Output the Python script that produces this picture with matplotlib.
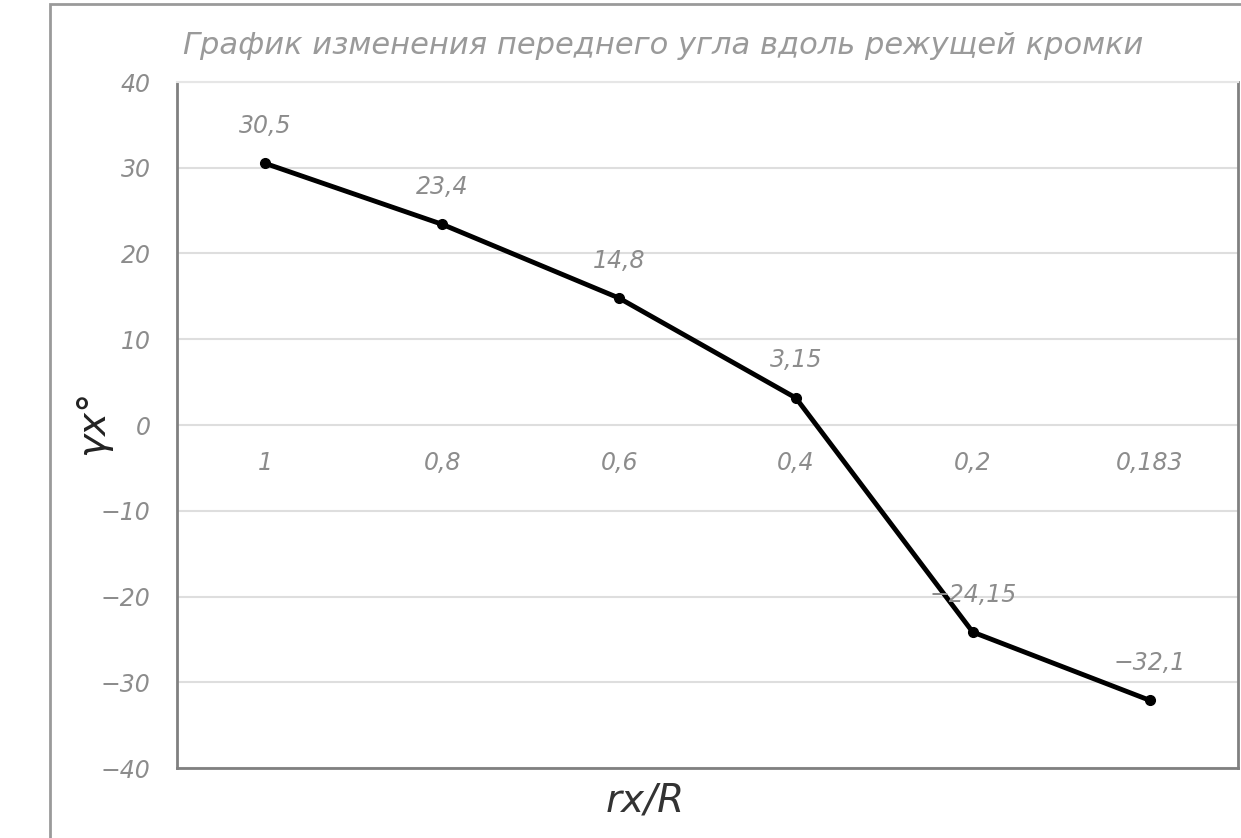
import matplotlib.pyplot as plt
from matplotlib.patches import Rectangle

# data
categories = ["1", "0,8", "0,6", "0,4", "0,2", "0,183"]
gamma = [30.5, 23.4, 14.8, 3.15, -24.15, -32.1]
point_labels = ["30,5", "23,4", "14,8", "3,15", "\u221224,15", "\u221232,1"]
yticks = [-40, -30, -20, -10, 0, 10, 20, 30, 40]
ytick_labels = ["\u221240", "\u221230", "\u221220", "\u221210", "0", "10", "20", "30", "40"]
title = "График изменения переднего угла вдоль режущей кромки"

plt.rcParams['font.family'] = ['Liberation Sans Narrow', 'DejaVu Sans']
grey = '#8c8c8c'

fig = plt.figure(figsize=(12.41, 8.38), dpi=100)
ax = fig.add_axes([177 / 1241, 1 - 768 / 838, (1238 - 177) / 1241, (768 - 82) / 838])

# outer frame of the sheet
fig.patches.append(Rectangle((50 / 1241, -0.02), 1.0, 1 - 4 / 838 + 0.02,
                             transform=fig.transFigure, fill=False,
                             edgecolor='#9a9a9a', lw=2))

x = list(range(len(categories)))
ax.plot(x, gamma, color='black', lw=3.5, marker='o', markersize=7, zorder=3)

for i, (v, lab) in enumerate(zip(gamma, point_labels)):
    ax.annotate(lab, (i, v), xytext=(0, 27), textcoords='offset points',
                ha='center', va='center', fontsize=17, style='italic', color=grey)

for i, lab in enumerate(categories):
    ax.text(i, -4.4, lab, ha='center', va='center', fontsize=17,
            style='italic', color=grey)

ax.set_xlim(-0.5, len(categories) - 0.5)
ax.set_ylim(-40, 40)
ax.set_xticks([])
ax.set_yticks(yticks)
ax.set_yticklabels(ytick_labels, fontsize=17, style='italic', color=grey)
ax.tick_params(axis='y', length=0, pad=19)
ax.yaxis.grid(True, color='#dedede', lw=1.5)
ax.set_axisbelow(True)

for side in ['left', 'bottom', 'right']:
    ax.spines[side].set_color('#808080')
    ax.spines[side].set_linewidth(2)
ax.spines['top'].set_color('#e6e6e6')
ax.spines['top'].set_linewidth(1.5)

fig.text(663 / 1241, 1 - 45 / 838, title, ha='center', va='center',
         fontsize=22, style='italic', color='#9a9a9a')
fig.text(645 / 1241, 1 - 800 / 838, "rx/R", ha='center', va='center',
         fontsize=28, style='italic', color='#333333')
fig.text(92 / 1241, 1 - 422 / 838, "\u03b3x\u00b0", ha='center', va='center',
         fontsize=28, style='italic', color='#222222', rotation=90)

fig.savefig('out.png', dpi=100)
